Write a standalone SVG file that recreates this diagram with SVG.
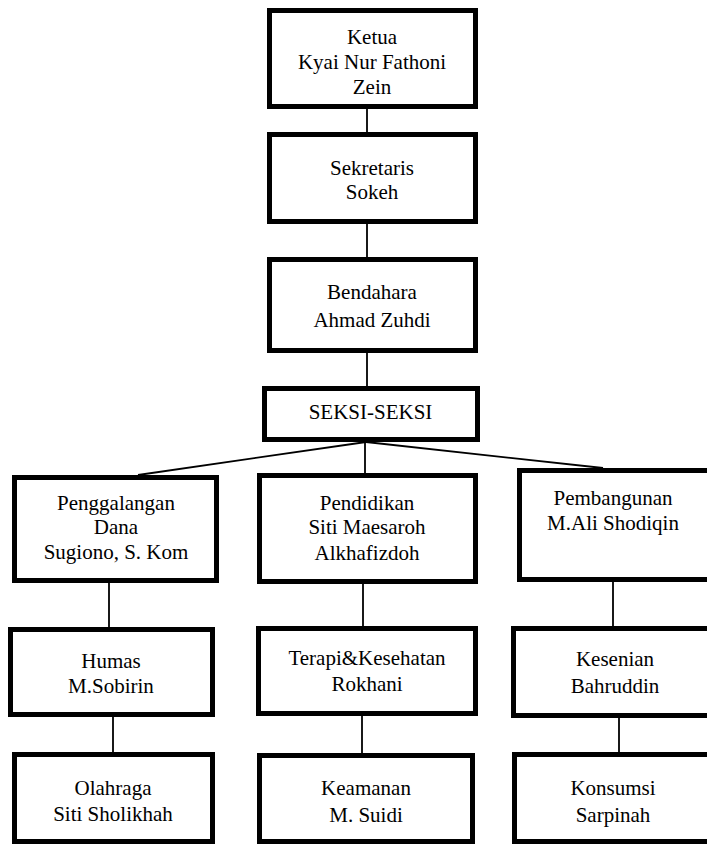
<svg xmlns="http://www.w3.org/2000/svg" width="707" height="845" viewBox="0 0 707 845">
<style>
.box{fill:#fff;stroke:#000;stroke-width:5}
.t{font-family:"Liberation Serif","Times New Roman",serif;font-size:21px;fill:#000;text-anchor:middle}
.c{stroke:#000;stroke-width:1.8;fill:none}
</style>
<rect width="707" height="845" fill="#fff"/>
<g id="connectors">
<line class="c" x1="367" y1="109" x2="367" y2="132"/>
<line class="c" x1="367" y1="224" x2="367" y2="257"/>
<line class="c" x1="367" y1="353" x2="367" y2="386"/>
<line class="c" x1="366" y1="442" x2="138" y2="475"/>
<line class="c" x1="366" y1="442" x2="603" y2="468"/>
<line class="c" x1="365" y1="442" x2="365" y2="473"/>
<line class="c" x1="109" y1="583" x2="109" y2="627"/>
<line class="c" x1="113" y1="717" x2="113" y2="752"/>
<line class="c" x1="363" y1="584" x2="363" y2="626"/>
<line class="c" x1="362" y1="716" x2="362" y2="753"/>
<line class="c" x1="613" y1="582" x2="613" y2="626"/>
<line class="c" x1="619" y1="718" x2="619" y2="752"/>
</g>
<g id="ketua">
<rect class="box" x="269.5" y="10.5" width="206" height="96"/>
<text class="t" x="372" y="44">Ketua</text>
<text class="t" x="372" y="69">Kyai Nur Fathoni</text>
<text class="t" x="372" y="94">Zein</text>
</g>
<g id="sekretaris">
<rect class="box" x="269.5" y="134.5" width="206" height="87"/>
<text class="t" x="372" y="175">Sekretaris</text>
<text class="t" x="372" y="199">Sokeh</text>
</g>
<g id="bendahara">
<rect class="box" x="269.5" y="259.5" width="206" height="91"/>
<text class="t" x="372" y="299">Bendahara</text>
<text class="t" x="372" y="327">Ahmad Zuhdi</text>
</g>
<g id="seksi">
<rect class="box" x="264.5" y="388.5" width="213" height="51"/>
<text class="t" x="370.5" y="419">SEKSI-SEKSI</text>
</g>
<g id="penggalangan">
<rect class="box" x="14.5" y="477.5" width="202" height="103"/>
<text class="t" x="116" y="510">Penggalangan</text>
<text class="t" x="116" y="534">Dana</text>
<text class="t" x="116" y="559">Sugiono, S. Kom</text>
</g>
<g id="pendidikan">
<rect class="box" x="259.5" y="475.5" width="216" height="106"/>
<text class="t" x="367" y="510">Pendidikan</text>
<text class="t" x="367" y="534">Siti Maesaroh</text>
<text class="t" x="367" y="560">Alkhafizdoh</text>
</g>
<g id="pembangunan">
<rect class="box" x="519.5" y="470.5" width="190" height="109"/>
<text class="t" x="613" y="505">Pembangunan</text>
<text class="t" x="613" y="530">M.Ali Shodiqin</text>
</g>
<g id="humas">
<rect class="box" x="10.5" y="629.5" width="202" height="85"/>
<text class="t" x="111" y="668">Humas</text>
<text class="t" x="111" y="693">M.Sobirin</text>
</g>
<g id="terapi">
<rect class="box" x="258.5" y="628.5" width="217" height="85"/>
<text class="t" x="367" y="665">Terapi&amp;Kesehatan</text>
<text class="t" x="367" y="691">Rokhani</text>
</g>
<g id="kesenian">
<rect class="box" x="513.5" y="628.5" width="203" height="87"/>
<text class="t" x="615" y="666">Kesenian</text>
<text class="t" x="615" y="693">Bahruddin</text>
</g>
<g id="olahraga">
<rect class="box" x="14.5" y="754.5" width="198" height="87"/>
<text class="t" x="113" y="795">Olahraga</text>
<text class="t" x="113" y="821">Siti Sholikhah</text>
</g>
<g id="keamanan">
<rect class="box" x="259.5" y="755.5" width="213" height="86"/>
<text class="t" x="366" y="795">Keamanan</text>
<text class="t" x="366" y="822">M. Suidi</text>
</g>
<g id="konsumsi">
<rect class="box" x="514.5" y="754.5" width="202" height="87"/>
<text class="t" x="613" y="795">Konsumsi</text>
<text class="t" x="613" y="822">Sarpinah</text>
</g>
</svg>
